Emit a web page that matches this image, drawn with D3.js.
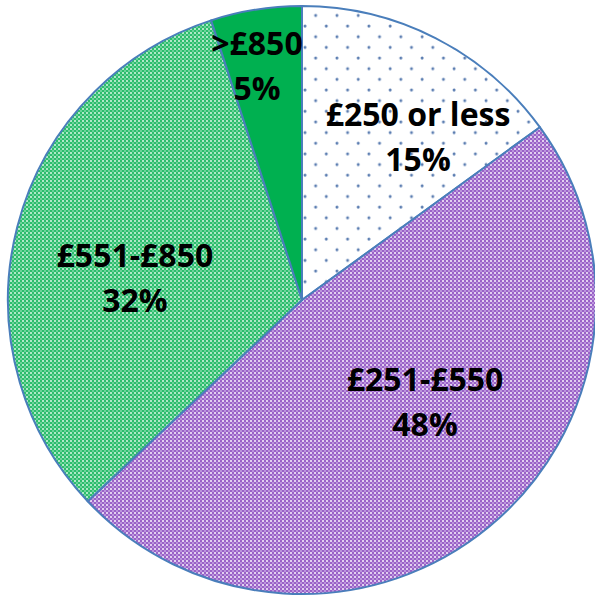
<!DOCTYPE html>
<html><head><meta charset="utf-8">
<script src="https://cdn.jsdelivr.net/npm/d3@7"></script>
<style>html,body{margin:0;padding:0;background:#fff;}svg{display:block;}</style>
</head><body>
<svg id="chart" width="595" height="597"></svg>
<script>
const categories = ["£250 or less", "£251-£550", "£551-£850", ">£850"];
const values = [15, 48, 32, 5];
const percentLabels = ["15%", "48%", "32%", "5%"];

// label placement (angle shift in degrees, radius as fraction of pie radius)
const labelLayout = [
  {da: 9.4, rf: 0.665},
  {da: -9.1, rf: 0.557},
  {da: -8.9, rf: 0.571},
  {da: -2.2, rf: 0.789}
];

const svg = d3.select("#chart");
const cx = 302, cy = 300, R = 294;
const defs = svg.append("defs");

// dotted pattern
const pd = defs.append("pattern").attr("id","pDots").attr("patternUnits","userSpaceOnUse")
  .attr("width",21.3).attr("height",21.3);
pd.append("rect").attr("width",21.3).attr("height",21.3).attr("fill","#ffffff");
pd.append("circle").attr("cx",3).attr("cy",3).attr("r",1.5).attr("fill","#5b7db1");
pd.append("circle").attr("cx",13.65).attr("cy",13.65).attr("r",1.5).attr("fill","#5b7db1");

function checker(id, base, light, lighter){
  const p = defs.append("pattern").attr("id",id).attr("patternUnits","userSpaceOnUse")
    .attr("width",4).attr("height",4);
  p.append("rect").attr("width",4).attr("height",4).attr("fill",base);
  p.append("rect").attr("x",0).attr("y",0).attr("width",2).attr("height",2).attr("fill",light);
  p.append("rect").attr("x",2).attr("y",2).attr("width",2).attr("height",2).attr("fill",lighter);
}
checker("pPurple", "#9a62c7", "#e2d0f0", "#bb94dc");
checker("pGreen", "#2cbd6c", "#b0e8c8", "#6cd39a");

const fills = ["url(#pDots)", "url(#pPurple)", "url(#pGreen)", "#00b050"];

const pie = d3.pie().sort(null).value(d => d);
const arcs = pie(values);
const arc = d3.arc().innerRadius(0).outerRadius(R);

const g = svg.append("g").attr("transform", `translate(${cx},${cy})`);
g.selectAll("path").data(arcs).join("path")
  .attr("d", arc)
  .attr("fill", (d,i) => fills[i])
  .attr("stroke", "#4a7ebb")
  .attr("stroke-width", 2)
  .attr("stroke-linejoin","round");

const font = "'Open Sans', Lato, sans-serif";
const lab = g.selectAll("g.lab").data(arcs).join("g").attr("class","lab")
  .attr("transform", (d,i) => {
    const a = (d.startAngle + d.endAngle)/2 + labelLayout[i].da*Math.PI/180;
    const r = R*labelLayout[i].rf;
    return `translate(${r*Math.sin(a)},${-r*Math.cos(a)})`;
  });
lab.append("text").attr("text-anchor","middle").attr("y",-17)
  .style("font-family",font).style("font-weight","700")
  .style("font-size","32px").attr("fill","#000")
  .text((d,i) => categories[i]);
lab.append("text").attr("text-anchor","middle").attr("y",28)
  .style("font-family",font).style("font-weight","700")
  .style("font-size","32px").attr("fill","#000")
  .text((d,i) => percentLabels[i]);
</script>
</body></html>
